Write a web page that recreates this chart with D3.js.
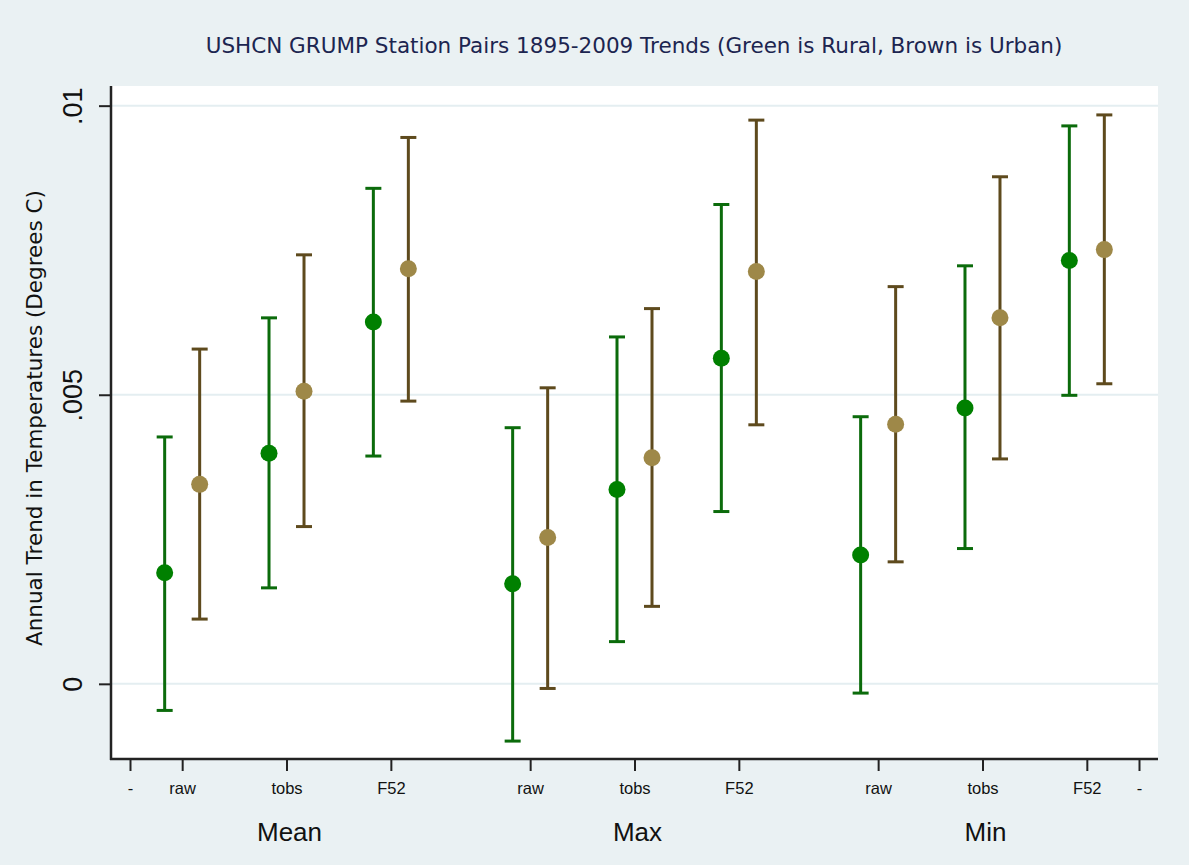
<!DOCTYPE html>
<html lang="en">
<head>
    <meta charset="UTF-8">
    <title>USHCN GRUMP Station Pairs</title>
    <style>
        body { margin: 0; background: #eaf1f3; }
        svg { display: block; }
    </style>
</head>
<body>
<svg></svg>
<script src="https://d3js.org/d3.v7.min.js"></script>
<script>
    // groups and adjustment steps along the x axis
    var groups = ["Mean", "Max", "Min"];
    var steps = ["raw", "tobs", "F52"];

    // rural (green) estimates and 95% bounds, order: Mean raw/tobs/F52, Max ..., Min ...
    var ruralEst = [0.00192, 0.00399, 0.00626, 0.00173, 0.00336, 0.00563, 0.00223, 0.00477, 0.00732];
    var ruralLo  = [-0.00046, 0.00166, 0.00394, -0.00099, 0.00073, 0.00298, -0.00016, 0.00234, 0.00499];
    var ruralHi  = [0.00427, 0.00633, 0.00857, 0.00443, 0.00600, 0.00829, 0.00462, 0.00723, 0.00965];

    // urban (brown)
    var urbanEst = [0.00345, 0.00506, 0.00718, 0.00253, 0.00391, 0.00713, 0.00449, 0.00633, 0.00751];
    var urbanLo  = [0.00112, 0.00272, 0.00489, -0.00008, 0.00134, 0.00448, 0.00211, 0.00389, 0.00519];
    var urbanHi  = [0.00579, 0.00742, 0.00945, 0.00512, 0.00649, 0.00975, 0.00687, 0.00877, 0.00984];

    var yTicks = [0, 0.005, 0.01];
    var yTickLabels = ["0", ".005", ".01"];

    var width = 1189;
    var height = 865;
    var plotL = 111, plotR = 1158, plotT = 86, plotB = 759;
    var groupGap = 0.67;   // extra space between groups, in step units
    var pairOffset = 17.5; // px between the tick and each marker
    var font = "'Liberation Sans', Arial, sans-serif";

    var svg = d3.select("svg")
        .attr("width", width)
        .attr("height", height);

    svg.append("rect")
        .attr("width", width).attr("height", height)
        .attr("fill", "#eaf1f3");

    svg.append("rect")
        .attr("x", plotL).attr("y", plotT)
        .attr("width", plotR - plotL).attr("height", plotB - plotT)
        .attr("fill", "#ffffff");

    // position of each step on a numeric axis: 0 and the end are the "-" ticks
    function pos(g, s) {
        return g * (2 * steps.length + groupGap) + 1 + 2 * s;
    }
    var endPos = pos(groups.length - 1, steps.length - 1) + 1;

    var xScale = d3.scaleLinear().domain([0, endPos]).range([130, 1139]);
    var yScale = d3.scaleLinear().domain([-0.0013, 0.01034]).range([plotB, plotT]);

    var rows = [];
    groups.forEach(function (g, gi) {
        steps.forEach(function (s, si) {
            var k = gi * steps.length + si;
            rows.push({
                group: g, step: s, x: pos(gi, si),
                rEst: ruralEst[k], rLo: ruralLo[k], rHi: ruralHi[k],
                uEst: urbanEst[k], uLo: urbanLo[k], uHi: urbanHi[k]
            });
        });
    });

    // grid lines
    svg.append("g").selectAll("line")
        .data(yTicks)
        .enter().append("line")
        .attr("x1", plotL).attr("x2", plotR)
        .attr("y1", function (d) { return yScale(d); })
        .attr("y2", function (d) { return yScale(d); })
        .attr("stroke", "#e4eef1")
        .attr("stroke-width", 2);

    // y axis
    var yAxis = d3.axisLeft(yScale)
        .tickValues(yTicks)
        .tickSize(12)
        .tickPadding(0)
        .tickFormat(function (d, i) { return yTickLabels[i]; });
    var yg = svg.append("g")
        .attr("transform", "translate(" + plotL + ",0)")
        .call(yAxis);
    yg.select(".domain").remove();
    yg.selectAll(".tick line").attr("stroke", "#222").attr("stroke-width", 2);
    yg.selectAll(".tick text")
        .attr("transform", "rotate(-90)")
        .attr("x", 0).attr("y", -29)
        .attr("dy", 0)
        .attr("text-anchor", "middle")
        .style("font-family", font)
        .style("font-size", "27px")
        .attr("fill", "#111");

    svg.append("line")
        .attr("x1", plotL).attr("x2", plotL)
        .attr("y1", plotT).attr("y2", plotB + 1)
        .attr("stroke", "#222").attr("stroke-width", 2.5);

    // x axis
    var xTickVals = [0].concat(rows.map(function (d) { return d.x; })).concat([endPos]);
    var xAxis = d3.axisBottom(xScale)
        .tickValues(xTickVals)
        .tickSize(12)
        .tickPadding(11)
        .tickFormat(function (d, i) {
            return (i === 0 || i === xTickVals.length - 1) ? "-" : rows[i - 1].step;
        });
    var xg = svg.append("g")
        .attr("transform", "translate(0," + plotB + ")")
        .call(xAxis);
    xg.select(".domain").remove();
    xg.selectAll(".tick line").attr("stroke", "#222").attr("stroke-width", 2);
    xg.selectAll(".tick text")
        .style("font-family", font)
        .style("font-size", "16.5px")
        .attr("fill", "#111");

    svg.append("line")
        .attr("x1", plotL - 1).attr("x2", plotR)
        .attr("y1", plotB).attr("y2", plotB)
        .attr("stroke", "#222").attr("stroke-width", 2.5);

    // group labels under the middle step
    svg.append("g").selectAll("text")
        .data(groups)
        .enter().append("text")
        .attr("x", function (d, i) { return xScale(pos(i, 1)) + 3; })
        .attr("y", 841)
        .attr("text-anchor", "middle")
        .style("font-family", font)
        .style("font-size", "26px")
        .attr("fill", "#111")
        .text(function (d) { return d; });

    // error bars and points
    var series = [
        { key: "r", off: -pairOffset, line: "#0b6b0b", dot: "#008000" },
        { key: "u", off: pairOffset, line: "#5e4a1d", dot: "#9e8848" }
    ];

    series.forEach(function (s) {
        var g = svg.append("g");
        var bars = g.selectAll("g.bar")
            .data(rows)
            .enter().append("g")
            .attr("class", "bar")
            .attr("transform", function (d) { return "translate(" + (xScale(d.x) + s.off) + ",0)"; });
        bars.append("line")
            .attr("x1", 0).attr("x2", 0)
            .attr("y1", function (d) { return yScale(d[s.key + "Lo"]); })
            .attr("y2", function (d) { return yScale(d[s.key + "Hi"]); })
            .attr("stroke", s.line).attr("stroke-width", 3);
        ["Lo", "Hi"].forEach(function (end) {
            bars.append("line")
                .attr("x1", -8).attr("x2", 8)
                .attr("y1", function (d) { return yScale(d[s.key + end]); })
                .attr("y2", function (d) { return yScale(d[s.key + end]); })
                .attr("stroke", s.line).attr("stroke-width", 3);
        });
        bars.append("circle")
            .attr("cx", 0)
            .attr("cy", function (d) { return yScale(d[s.key + "Est"]); })
            .attr("r", 8.5)
            .attr("fill", s.dot);
    });

    // axis title and chart title
    svg.append("text")
        .attr("transform", "translate(42,418) rotate(-90)")
        .attr("text-anchor", "middle")
        .style("font-family", "'DejaVu Sans', sans-serif")
        .style("font-size", "21.5px")
        .attr("fill", "#111")
        .text("Annual Trend in Temperatures (Degrees C)");

    svg.append("text")
        .attr("x", 634).attr("y", 53)
        .attr("text-anchor", "middle")
        .style("font-family", "'DejaVu Sans', sans-serif")
        .style("font-size", "21.5px")
        .attr("fill", "#1c2550")
        .text("USHCN GRUMP Station Pairs 1895-2009 Trends (Green is Rural, Brown is Urban)");
</script>
</body>
</html>
